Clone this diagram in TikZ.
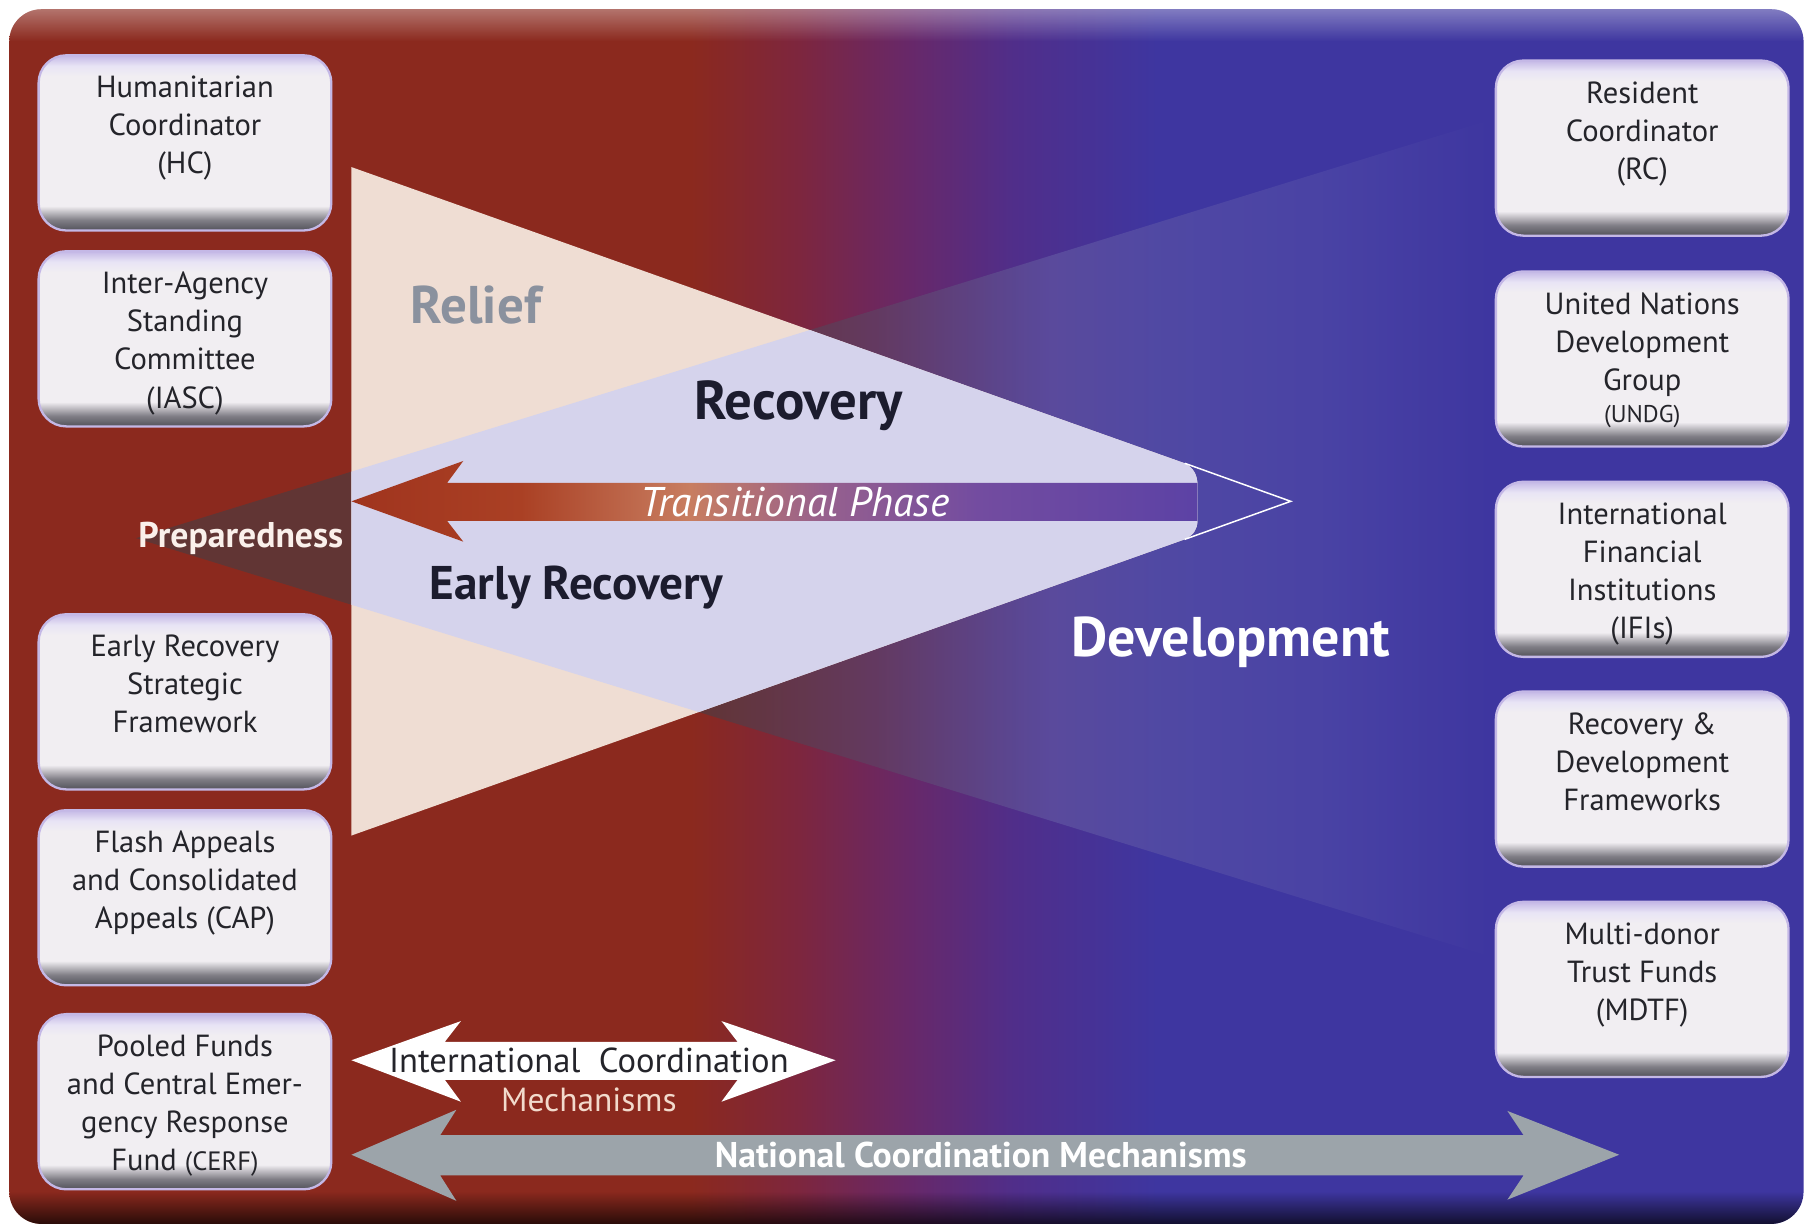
\documentclass[tikz,border=0pt]{standalone}
\usepackage{fontspec}
\setmainfont{PT Sans}
\usetikzlibrary{positioning, fadings}

\definecolor{bgred}{RGB}{139,41,30}
\definecolor{bgwine}{RGB}{125,38,62}
\definecolor{bgmid}{RGB}{104,40,104}
\definecolor{bgviolet}{RGB}{80,46,138}
\definecolor{bgblue}{RGB}{62,54,160}
\definecolor{devdark}{RGB}{70,62,68}
\definecolor{devmauve}{RGB}{92,70,100}
\definecolor{devlav}{RGB}{100,92,165}
\definecolor{devsoft}{RGB}{82,76,168}
\definecolor{reliefpeach}{RGB}{239,221,211}
\definecolor{overlaplav}{RGB}{213,211,236}
\definecolor{trred}{RGB}{160,52,30}
\definecolor{trrust}{RGB}{170,64,36}
\definecolor{trcopper}{RGB}{200,125,96}
\definecolor{trmauve}{RGB}{150,96,142}
\definecolor{trpurple}{RGB}{115,76,160}
\definecolor{trend}{RGB}{92,66,165}
\definecolor{boxdark}{RGB}{82,82,90}
\definecolor{boxgrey}{RGB}{128,126,134}
\definecolor{boxwhite}{RGB}{241,238,242}
\definecolor{boxtop}{RGB}{232,228,245}
\definecolor{boxrim}{RGB}{196,184,230}
\definecolor{orgink}{RGB}{36,36,42}
\definecolor{reliefgrey}{RGB}{138,145,158}
\definecolor{phaseink}{RGB}{28,28,46}
\definecolor{natgrey}{RGB}{156,164,170}
\definecolor{mechpeach}{RGB}{242,218,204}

% background, left red to right blue
\pgfdeclarehorizontalshading{bgshade}{100bp}{color(0bp)=(bgred); color(44bp)=(bgred);
  color(47bp)=(bgwine); color(50bp)=(bgmid); color(53bp)=(bgviolet); color(57bp)=(bgblue); color(100bp)=(bgblue)}
% development wedge
\pgfdeclarehorizontalshading{devshade}{100bp}{color(0bp)=(devdark); color(44bp)=(devdark);
  color(50bp)=(devmauve); color(56bp)=(devlav); color(65bp)=(devsoft); color(71bp)=(bgblue); color(100bp)=(bgblue)}
% transitional phase arrow
\pgfdeclarehorizontalshading{transshade}{100bp}{color(0bp)=(trred); color(25bp)=(trred);
  color(35bp)=(trrust); color(45bp)=(trcopper); color(53bp)=(trmauve); color(62bp)=(trpurple);
  color(75bp)=(trend); color(100bp)=(trend)}
% boxes
\pgfdeclareverticalshading{boxshade}{100bp}{color(0bp)=(boxdark); color(25bp)=(boxdark);
  color(28bp)=(boxgrey); color(32bp)=(boxwhite); color(69bp)=(boxwhite); color(72bp)=(boxtop);
  color(75bp)=(boxrim); color(100bp)=(boxrim)}

\tikzset{
  orgbox/.style={rounded corners=24pt, minimum width=254pt, minimum height=152pt,
    inner sep=0pt, shading=boxshade, draw=boxrim, line width=2pt},
  orgtext/.style={align=center, inner sep=0pt, text=orgink,
    font=\fontsize{26.5}{33}\selectfont},
  phase/.style={inner sep=0pt, font=\bfseries\fontsize{47.5}{50}\selectfont}
}

\begin{document}
\begin{tikzpicture}[x=1pt,y=-1pt]
        \useasboundingbox (0,0) rectangle (1568,1066);
        \fill[white] (0,0) rectangle (1568,1066);
        \shade[shading=bgshade, rounded corners=28pt] (8,8) rectangle (1565,1062);
        \begin{scope}
          \clip[rounded corners=28pt] (8,8) rectangle (1565,1062);
          \fill[white, opacity=.35, path fading=south] (8,8) rectangle (1565,36);
          \fill[black, opacity=.7, path fading=north] (8,1034) rectangle (1565,1062);
        \end{scope}

        % wedges
        \coordinate (rtop) at (305,145);
        \coordinate (rbot) at (305,725);
        \coordinate (rapex) at (1120,435);
        \coordinate (rcutu) at (1028,402);
        \coordinate (rcutl) at (1028,468);
        \coordinate (dapex) at (118,467);
        \coordinate (dtop) at (1400,71);
        \coordinate (dbot) at (1400,863);

        \shade[shading=devshade, opacity=.6] (dapex) -- (dtop) -- (dbot) -- cycle;
        \fill[reliefpeach] (rtop) -- (rcutu) .. controls (1036,406) and (1039,413) .. (1039,420)
              -- (1039,452) .. controls (1039,459) and (1036,464) .. (rcutl) -- (rbot) -- cycle;
        \begin{scope}
          \clip (dapex) -- (dtop) -- (dbot) -- cycle;
          \fill[overlaplav] (rtop) -- (rcutu) .. controls (1036,406) and (1039,413) .. (1039,420)
              -- (1039,452) .. controls (1039,459) and (1036,464) .. (rcutl) -- (rbot) -- cycle;
        \end{scope}
        \draw[white, line width=1.3pt] (rcutu) -- (rapex) -- (rcutl);

        % transitional phase
        \shade[shading=transshade] (305,435) -- (402,400) -- (388,419) -- (1039,419)
              -- (1039,452) -- (388,452) -- (402,470) -- cycle;
        \node[inner sep=0pt, text=white, font=\itshape\fontsize{36}{40}\selectfont] (trans) at (690,436) {Transitional Phase};

        \node[phase, text=reliefgrey, font=\bfseries\fontsize{46}{50}\selectfont] (relief) at (413,265) {Relief};
        \node[phase, text=phaseink] (recovery) at (693,352) {Recovery};
        \node[phase, text=phaseink, font=\bfseries\fontsize{41}{46}\selectfont] (early) at (500,510) {Early Recovery};
        \node[phase, text=white, font=\bfseries\fontsize{48.5}{52}\selectfont] (devel) at (1068,557) {Development};
        \node[phase, text=mechpeach!40!white, font=\bfseries\fontsize{31}{34}\selectfont] (prep) at (209,467) {Preparedness};

        % humanitarian side
        \node[orgbox] (hc) at (160.5,124) {};
        \node[orgtext, below=19pt of hc.north] (hct) {Humanitarian\\Coordinator\\(HC)};
        \node[orgbox] (iasc) at (160.5,294) {};
        \node[orgtext, below=19pt of iasc.north] (iasct) {Inter-Agency\\Standing\\Committee\\(IASC)};
        \node[orgbox] (ersf) at (160.5,609) {};
        \node[orgtext, below=19pt of ersf.north] (ersft) {Early Recovery\\Strategic\\Framework};
        \node[orgbox] (cap) at (160.5,779) {};
        \node[orgtext, below=19pt of cap.north] (capt) {Flash Appeals\\and Consolidated\\Appeals (CAP)};
        \node[orgbox] (cerf) at (160.5,956) {};
        \node[orgtext, below=19pt of cerf.north] (cerft) {Pooled Funds\\and Central Emer-\\gency Response\\Fund {\fontsize{23}{33}\selectfont(CERF)}};

        % development side
        \node[orgbox] (rc) at (1425,128.5) {};
        \node[orgtext, below=19pt of rc.north] (rct) {Resident\\Coordinator\\(RC)};
        \node[orgbox] (undg) at (1425,311.5) {};
        \node[orgtext, below=19pt of undg.north] (undgt) {United Nations\\Development\\Group\\[-5pt]{\fontsize{21}{26}\selectfont(UNDG)}};
        \node[orgbox] (ifi) at (1425,494) {};
        \node[orgtext, below=19pt of ifi.north] (ifit) {International\\Financial\\Institutions\\(IFIs)};
        \node[orgbox] (rdf) at (1425,676) {};
        \node[orgtext, below=19pt of rdf.north] (rdft) {Recovery \&\\Development\\Frameworks};
        \node[orgbox] (mdtf) at (1425,858.5) {};
        \node[orgtext, below=19pt of mdtf.north] (mdtft) {Multi-donor\\Trust Funds\\(MDTF)};

        % coordination arrows
        \fill[white] (305,920) -- (400,886) -- (386,904) -- (640,904) -- (626,886) -- (725,920)
              -- (626,956) -- (640,937) -- (386,937) -- (400,956) -- cycle;
        \node[orgtext, font=\fontsize{30}{33}\selectfont] (icm) at (511,920) {International\ \ Coordination};
        \node[orgtext, text=mechpeach, font=\fontsize{29}{33}\selectfont] (icmb) at (511,954) {Mechanisms};

        \fill[natgrey] (305,1002) -- (396,963) -- (382,985) -- (1322,985) -- (1308,964) -- (1405,1002)
              -- (1308,1041) -- (1322,1020) -- (382,1020) -- (396,1042) -- cycle;
        \node[inner sep=0pt, text=white, font=\bfseries\fontsize{31}{34}\selectfont] (ncm) at (851,1002) {National Coordination Mechanisms};
\end{tikzpicture}
\end{document}
